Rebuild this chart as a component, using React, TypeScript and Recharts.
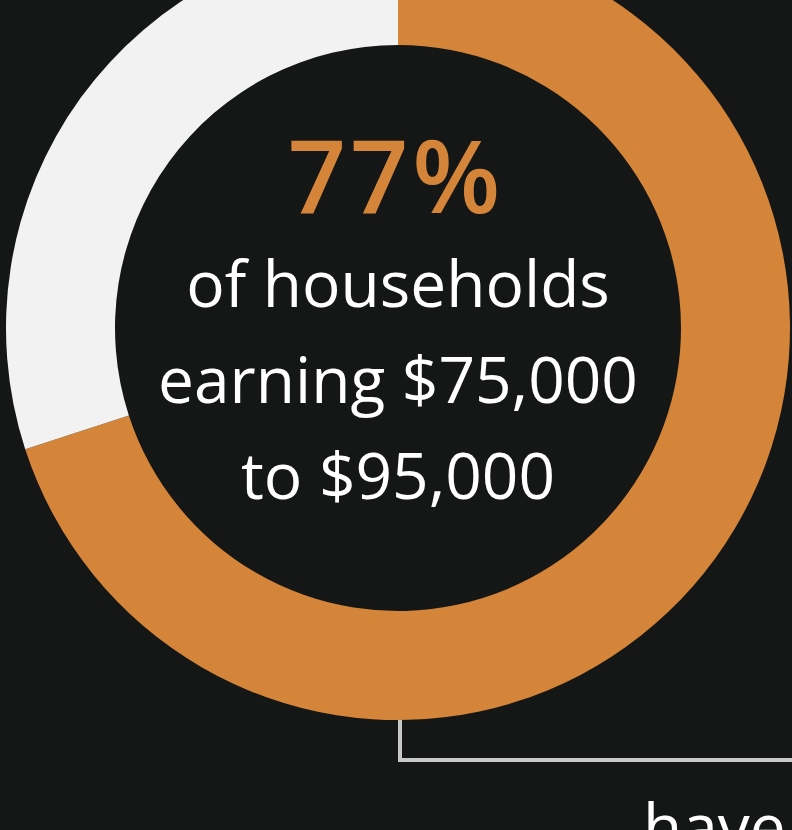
import { Cell, Pie, PieChart } from 'recharts';

const segmentNames = ['share', 'rest'];
const segmentValues = [70, 30];
const segmentColors = ['#D5853A', '#F2F2F2'];

const headline = '77%';
const captionLines = ['of households', 'earning $75,000', 'to $95,000'];
const footerWord = 'have';

const data = segmentNames.map((name, i) => ({ name, value: segmentValues[i] }));

export default function App() {
  return (
    <div style={{ position: 'fixed', left: 0, top: 0, width: 792, height: 830, background: '#151716', overflow: 'hidden' }}>
      <PieChart width={792} height={830} margin={{ top: 0, right: 0, bottom: 0, left: 0 }}>
        <Pie
          data={data}
          dataKey="value"
          nameKey="name"
          cx={398}
          cy={328}
          innerRadius={283}
          outerRadius={392}
          startAngle={90}
          endAngle={-270}
          stroke="none"
          isAnimationActive={false}
        >
          {data.map((d, i) => (
            <Cell key={d.name} fill={segmentColors[i]} />
          ))}
        </Pie>
      </PieChart>
      <svg width={792} height={830} style={{ position: 'absolute', left: 0, top: 0 }}>
        <polyline points="400,720 400,760 792,760" fill="none" stroke="#C8C8C8" strokeWidth={4} />
        <text x={396} y={213} textAnchor="middle" fill="#D5853A" fontFamily="'Open Sans', sans-serif" fontWeight={600} fontSize={102} letterSpacing={4}>
          {headline}
        </text>
        {captionLines.map((line, i) => (
          <text key={line} x={398} y={307 + i * 96} textAnchor="middle" fill="#FFFFFF" fontFamily="'Open Sans', sans-serif" fontSize={64}>
            {line}
          </text>
        ))}
        <text x={643} y={850} fill="#FFFFFF" fontFamily="'Open Sans', sans-serif" fontSize={64}>
          {footerWord}
        </text>
      </svg>
    </div>
  );
}
